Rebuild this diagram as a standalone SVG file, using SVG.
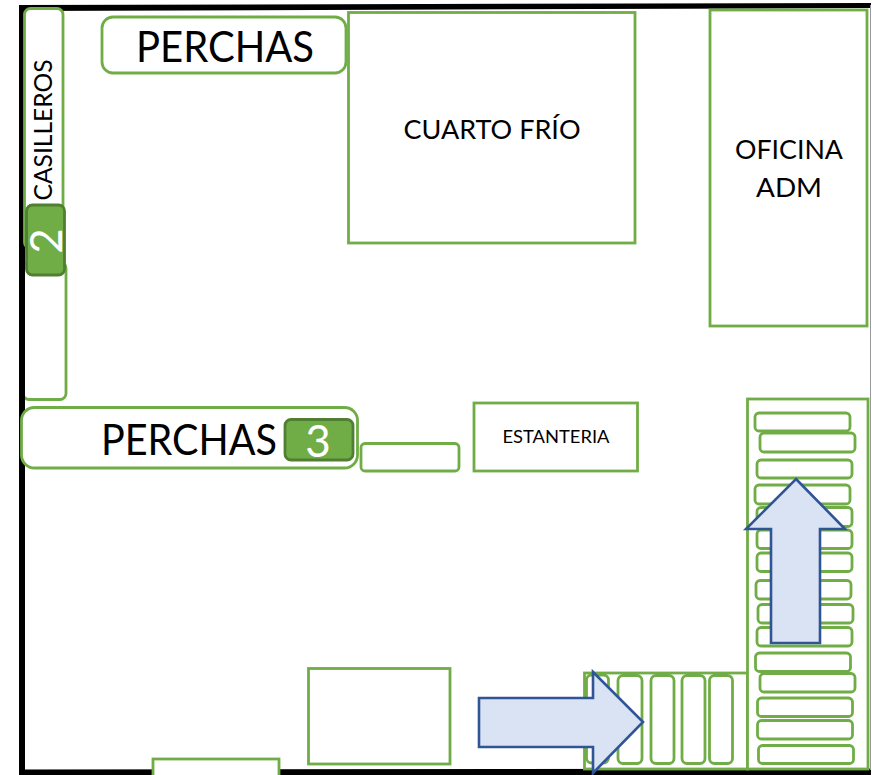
<svg xmlns="http://www.w3.org/2000/svg" width="872" height="775" viewBox="0 0 872 775">
<style>
.g{fill:#fff;stroke:#70ad47;stroke-width:2.8}
.n{fill:none;stroke:#70ad47;stroke-width:2.8}
.b{fill:#70ad47;stroke:#507e32;stroke-width:2.8}
.a{fill:#dae3f3;stroke:#2f5597;stroke-width:2.6;stroke-linejoin:miter}
text{font-family:"Lato","Open Sans","Liberation Sans",sans-serif;fill:#000;text-anchor:middle}
.w{fill:#fff}
</style>
<rect width="872" height="775" fill="#fff"/>
<g id="casilleros-2"><rect class="g" x="23" y="262" width="43" height="137.500" rx="6"/></g>
<polygon fill="#000" points="19,5 871,3 871,8 25,11 25,769.500 871,768.500 871,775 19,775"/>
<path d="M870.500 5V770" fill="none" stroke="#999" stroke-width="1"/>

<g id="casilleros"><rect class="g" x="24.500" y="8.500" width="38.500" height="240" rx="6"/>
<text transform="translate(52 130) rotate(-90)" font-size="24.500" textLength="141" lengthAdjust="spacingAndGlyphs">CASILLEROS</text></g>
<g id="badge-2"><rect class="b" x="26.500" y="205" width="38" height="70" rx="6"/>
<text class="w" transform="translate(62 241) rotate(-90)" font-size="44">2</text></g>
<g id="perchas-top"><rect class="g" x="102" y="17" width="244" height="56" rx="11"/>
<text x="225" y="61.500" font-size="42" textLength="178" lengthAdjust="spacingAndGlyphs">PERCHAS</text></g>
<g id="cuarto-frio"><rect class="g" x="348.500" y="12.500" width="286.500" height="230.500"/>
<text x="492" y="139" font-size="27.500" textLength="177" lengthAdjust="spacingAndGlyphs">CUARTO FRÍO</text></g>
<g id="oficina"><rect class="g" x="710" y="10" width="157" height="316"/>
<text x="789" y="159" font-size="27.500" textLength="108" lengthAdjust="spacingAndGlyphs">OFICINA</text>
<text x="789" y="197" font-size="27.500" textLength="66" lengthAdjust="spacingAndGlyphs">ADM</text></g>
<g id="perchas-mid"><rect class="g" x="21.500" y="407.500" width="336" height="60.500" rx="13"/>
<text x="189" y="454.500" font-size="42" textLength="176" lengthAdjust="spacingAndGlyphs">PERCHAS</text></g>
<g id="badge-3"><rect class="b" x="285" y="419.500" width="68" height="40.500" rx="6"/>
<text class="w" x="318" y="457" font-size="44">3</text></g>
<g id="small-shelf"><rect class="g" x="361" y="443.500" width="98" height="27.500" rx="4"/></g>
<g id="estanteria"><rect class="g" x="474" y="403" width="163.500" height="68"/>
<text x="556" y="443" font-size="17" textLength="107" lengthAdjust="spacingAndGlyphs">ESTANTERIA</text></g>
<g id="box-lower"><rect class="g" x="308.500" y="668.500" width="141.500" height="95.500"/></g>
<g id="box-bottom"><rect class="g" x="153" y="759" width="126" height="20"/></g>

<g id="rack-horizontal"><rect class="n" x="584.500" y="673" width="163" height="96"/>
<rect class="n" x="586.500" y="675" width="22" height="88" rx="5"/>
<rect class="n" x="618" y="675.500" width="24" height="88" rx="5"/>
<rect class="n" x="651" y="675.500" width="23" height="88" rx="5"/>
<rect class="n" x="682" y="675.500" width="23" height="88" rx="5"/>
<rect class="n" x="709.500" y="675.500" width="23" height="88" rx="5"/></g>
<g id="rack-vertical"><rect class="g" x="747.500" y="399" width="120.500" height="370"/>
<rect class="n" x="755" y="413" width="95" height="18" rx="4"/>
<rect class="n" x="760" y="433" width="95" height="19" rx="4"/>
<rect class="n" x="757" y="460" width="95" height="18" rx="4"/>
<rect class="n" x="755" y="485" width="95" height="19" rx="4"/>
<rect class="n" x="757" y="507.500" width="95" height="19" rx="4"/>
<rect class="n" x="757" y="530" width="95" height="18.500" rx="4"/>
<rect class="n" x="757" y="553" width="95" height="18.500" rx="4"/>
<rect class="n" x="756" y="580.500" width="95" height="18.500" rx="4"/>
<rect class="n" x="758" y="604.500" width="95" height="18.500" rx="4"/>
<rect class="n" x="757" y="627.500" width="95" height="18.500" rx="4"/>
<rect class="n" x="755.500" y="653" width="95" height="18.500" rx="4"/>
<rect class="n" x="760" y="673.500" width="95" height="18.500" rx="4"/>
<rect class="n" x="757.500" y="698" width="95" height="18.500" rx="4"/>
<rect class="n" x="757.500" y="720.500" width="95" height="18.500" rx="4"/>
<rect class="n" x="758.500" y="745.500" width="95" height="18" rx="4"/></g>

<g id="connectors">
<polygon class="a" points="479,698 593,698 593,672 643,722 593,773 593,747 479,747"/>
<polygon class="a" points="796,479 845,529 820,529 820,643 771,643 771,529 746,529"/>
</g>
</svg>
